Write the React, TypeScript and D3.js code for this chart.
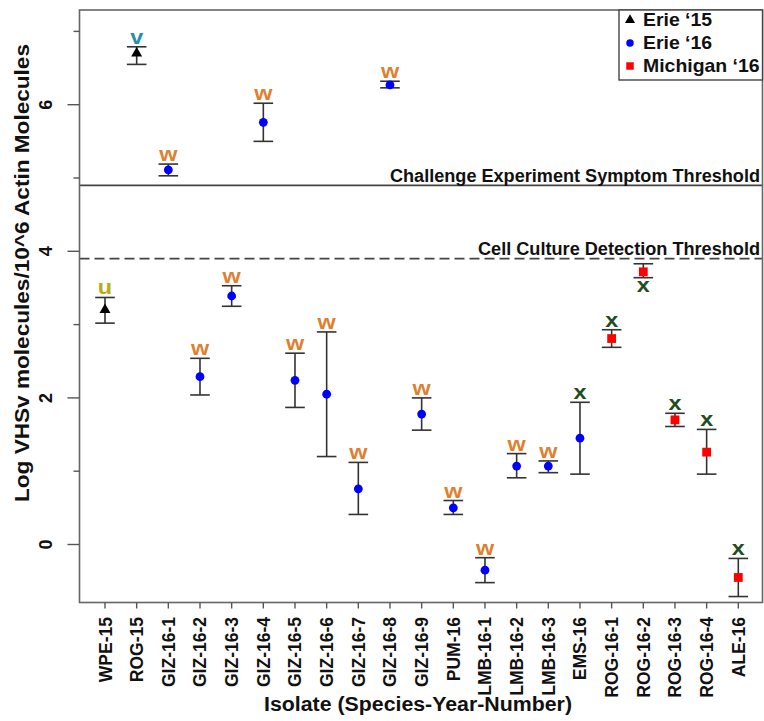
import React from "react";
import * as d3 from "d3";

const categories = ["WPE-15","ROG-15","GIZ-16-1","GIZ-16-2","GIZ-16-3","GIZ-16-4","GIZ-16-5","GIZ-16-6","GIZ-16-7","GIZ-16-8","GIZ-16-9","PUM-16","LMB-16-1","LMB-16-2","LMB-16-3","EMS-16","ROG-16-1","ROG-16-2","ROG-16-3","ROG-16-4","ALE-16"];
const means = [3.20,6.70,5.11,2.29,3.39,5.76,2.24,2.05,0.76,6.27,1.78,0.50,-0.35,1.07,1.07,1.45,2.81,3.72,1.70,1.26,-0.45];
const uppers = [3.37,6.79,5.19,2.54,3.53,6.02,2.61,2.90,1.12,6.32,2.00,0.60,-0.18,1.24,1.14,1.94,2.93,3.83,1.79,1.57,-0.19];
const lowers = [3.02,6.55,5.03,2.04,3.25,5.50,1.87,1.20,0.41,6.23,1.56,0.41,-0.52,0.91,0.98,0.96,2.69,3.64,1.61,0.96,-0.71];
const groups = ["Erie '15","Erie '15","Erie '16","Erie '16","Erie '16","Erie '16","Erie '16","Erie '16","Erie '16","Erie '16","Erie '16","Erie '16","Erie '16","Erie '16","Erie '16","Erie '16","Michigan '16","Michigan '16","Michigan '16","Michigan '16","Michigan '16"];
const letters = ["u","v","w","w","w","w","w","w","w","w","w","w","w","w","w","x","x","x","x","x","x"];
const letterBelow = [false,false,false,false,false,false,false,false,false,false,false,false,false,false,false,false,false,true,false,false,false];
const legendLabels = ["Erie \u201815","Erie \u201816","Michigan \u201816"];
const legendGroups = ["Erie '15","Erie '16","Michigan '16"];
const yTicksMajor = [0,2,4,6];
const yTicksMinor = [1,3,5,7];
const symptomThreshold = 4.9;
const cellThreshold = 3.9;

const letterColors: Record<string,string> = { u: "#b8ae10", v: "#2190aa", w: "#e07f2e", x: "#214d22" };
const groupColors: Record<string,string> = { "Erie '15": "#000000", "Erie '16": "#0000ff", "Michigan '16": "#ff0000" };

const W = 764, H = 721;
const L = 79.5, R = 762.5, T = 10, B = 602.5;
const font = "'Liberation Sans', Arial, sans-serif";

function Marker({ g, x, y, s = 1 }: { g: string; x: number; y: number; s?: number }) {
  const c = groupColors[g];
  if (g === "Erie '15") {
    const sym = d3.symbol(d3.symbolTriangle, 52 * s)();
    return <path d={sym as string} transform={`translate(${x},${y})`} fill={c} />;
  }
  if (g === "Erie '16") return <circle cx={x} cy={y} r={4.4 * s} fill={c} />;
  return <rect x={x - 4.4 * s} y={y - 4.4 * s} width={8.8 * s} height={8.8 * s} fill={c} />;
}

export default function App() {
  const x = d3.scalePoint<string>().domain(categories).range([105, 738.3]);
  const y = d3.scaleLinear().domain([0, 6]).range([544.5, 104.7]);
  const cap = 9.8;
  return (
    <svg width={W} height={H} style={{ position: "absolute", left: 0, top: 0, background: "#fff" }} fontFamily={font}>
      <rect x={0} y={0} width={W} height={H} fill="#fff" />
      <line x1={L} x2={R} y1={y(symptomThreshold)} y2={y(symptomThreshold)} stroke="#444" strokeWidth={1.6} />
      <line x1={L} x2={R} y1={y(cellThreshold)} y2={y(cellThreshold)} stroke="#444" strokeWidth={1.6} strokeDasharray="10,5" />
      <text x={390} y={y(symptomThreshold) - 3.5} textLength={370} lengthAdjust="spacingAndGlyphs" fontWeight="bold" fontSize={17.5} fill="#111">Challenge Experiment Symptom Threshold</text>
      <text x={478} y={y(cellThreshold) - 3.5} textLength={282} lengthAdjust="spacingAndGlyphs" fontWeight="bold" fontSize={17.5} fill="#111">Cell Culture Detection Threshold</text>
      {categories.map((c, i) => {
        const cx = x(c)!;
        const ly = letterBelow[i] ? y(lowers[i]) + 14 : y(uppers[i]) - 3;
        return (
          <g key={c}>
            <line x1={cx} x2={cx} y1={y(uppers[i])} y2={y(lowers[i])} stroke="#333" strokeWidth={1.6} />
            <line x1={cx - cap} x2={cx + cap} y1={y(uppers[i])} y2={y(uppers[i])} stroke="#333" strokeWidth={1.6} />
            <line x1={cx - cap} x2={cx + cap} y1={y(lowers[i])} y2={y(lowers[i])} stroke="#333" strokeWidth={1.6} />
            <Marker g={groups[i]} x={cx} y={y(means[i])} />
            <text transform={`translate(${cx},${ly}) scale(1.2,1)`} textAnchor="middle" fontWeight="bold" fontSize={19.5} fill={letterColors[letters[i]]}>{letters[i]}</text>
          </g>
        );
      })}
      <rect x={L} y={T} width={R - L} height={B - T} fill="none" stroke="#666" strokeWidth={1.6} />
      {yTicksMajor.map((t) => (
        <g key={"M" + t}>
          <line x1={L - 12} x2={L} y1={y(t)} y2={y(t)} stroke="#555" strokeWidth={1.4} />
          <text transform={`translate(${52},${y(t)}) rotate(-90)`} textAnchor="middle" fontWeight="bold" fontSize={18} fill="#111">{t}</text>
        </g>
      ))}
      {yTicksMinor.map((t) => (
        <line key={"m" + t} x1={L - 6} x2={L} y1={y(t)} y2={y(t)} stroke="#555" strokeWidth={1.4} />
      ))}
      <text transform={`translate(${29},${273}) rotate(-90)`} textAnchor="middle" textLength={458} lengthAdjust="spacingAndGlyphs" fontWeight="bold" fontSize={20} fill="#111">Log VHSv molecules/10^6 Actin Molecules</text>
      {categories.map((c) => (
        <g key={"x" + c}>
          <line x1={x(c)!} x2={x(c)!} y1={B} y2={B + 6} stroke="#555" strokeWidth={1.4} />
          <text transform={`translate(${x(c)! + 6.5},${617}) rotate(-90)`} textAnchor="end" fontWeight="bold" fontSize={17.5} fill="#111">{c}</text>
        </g>
      ))}
      <text x={418} y={711} textAnchor="middle" textLength={308} lengthAdjust="spacingAndGlyphs" fontWeight="bold" fontSize={20} fill="#111">Isolate (Species-Year-Number)</text>
      <rect x={619} y={T} width={R - 619} height={70} fill="#fff" stroke="#444" strokeWidth={1.4} />
      {legendGroups.map((g, i) => (
        <g key={g}>
          <Marker g={g} x={630} y={20 + i * 23} s={0.85} />
          <text transform={`translate(643,${26 + i * 23}) scale(1.08,1)`} fontWeight="bold" fontSize={18} fill="#111">{legendLabels[i]}</text>
        </g>
      ))}
    </svg>
  );
}
